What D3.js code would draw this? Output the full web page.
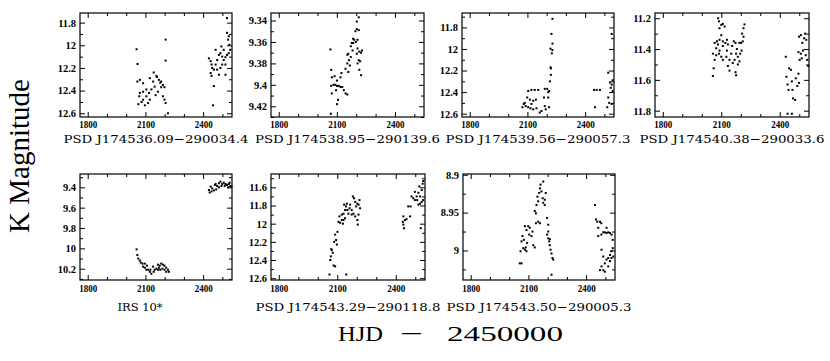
<!DOCTYPE html>
<html>
<head>
<meta charset="utf-8">
<script src="https://cdn.jsdelivr.net/npm/d3@7"></script>
<style>
  body { margin: 0; background: #fff; }
  svg { display: block; }
  .tick line { stroke: #000; stroke-width: 1; }
</style>
</head>
<body>
<svg id="chart" width="830" height="361"></svg>
<script>
// star names under each panel
const names = [
    "PSD J174536.09\u2212290034.4", "PSD J174538.95\u2212290139.6",
    "PSD J174539.56\u2212290057.3", "PSD J174540.38\u2212290033.6",
    "IRS 10*", "PSD J174543.29\u2212290118.8", "PSD J174543.50\u2212290005.3"
];

// HJD - 2450000 range and ticks (same for all panels)
const xRange = [1760, 2550];
const xTicks = [1800, 2100, 2400];
const xMinor = [1900, 2000, 2200, 2300, 2500];

// K magnitude range (bright at top) and ticks for each panel
const yRanges = [[11.715, 12.633], [9.333, 9.43], [11.666, 12.631], [11.166, 11.841],
                 [9.269, 10.311], [11.453, 12.62], [8.899, 9.039]];
const yTicks = [[11.8, 12, 12.2, 12.4, 12.6], [9.34, 9.36, 9.38, 9.4, 9.42],
                [11.8, 12, 12.2, 12.4, 12.6], [11.2, 11.4, 11.6, 11.8],
                [9.4, 9.6, 9.8, 10, 10.2], [11.6, 11.8, 12, 12.2, 12.4, 12.6],
                [8.9, 8.95, 9]];

// light curves: [HJD-2450000, K]
const lc1 = [[2054,12.035],[2059,12.165],[2205,11.95],[2205,12.135],
    [2058,12.32],[2071,12.305],[2088,12.335],[2143,12.24],[2157,12.27],[2170,12.305],[2182,12.32],
    [2191,12.35],[2199,12.37],[2148,12.365],[2131,12.39],[2119,12.42],[2105,12.45],[2088,12.48],
    [2080,12.50],[2063,12.52],[2097,12.53],[2114,12.51],[2123,12.48],[2071,12.42],[2088,12.41],
    [2068,12.45],[2105,12.39],[2153,12.44],[2165,12.41],[2191,12.45],[2199,12.48],[2205,12.51],
    [2182,12.37],[2140,12.32],[2123,12.29],[2217,12.60],[2160,12.28],[2177,12.33],
    [2430,12.115],[2439,12.14],[2444,12.17],[2447,12.20],[2439,12.245],[2444,12.27],[2456,12.215],
    [2465,12.17],[2473,12.13],[2482,12.085],[2490,12.07],[2499,12.10],[2507,12.13],[2516,12.105],
    [2524,12.085],[2533,12.07],[2541,12.04],[2536,11.995],[2530,11.95],[2533,11.92],[2524,11.89],
    [2524,11.76],[2490,12.20],[2499,12.17],[2516,12.17],[2473,12.215],[2482,12.26],[2516,12.26],
    [2456,12.36],[2451,12.53],[2507,12.04],[2495,12.01],[2465,12.04]];

const lc2 = [[2067,9.367],[2071,9.386],[2074,9.393],[2071,9.401],[2074,9.408],[2069,9.427],
    [2083,9.400],[2092,9.400],[2101,9.401],[2110,9.401],[2119,9.402],[2128,9.402],[2088,9.392],
    [2101,9.396],[2096,9.405],[2106,9.414],[2101,9.418],[2119,9.393],[2124,9.389],[2136,9.405],
    [2145,9.408],[2154,9.409],[2145,9.385],[2154,9.380],[2163,9.377],[2167,9.382],[2154,9.372],
    [2159,9.371],[2172,9.374],[2172,9.364],[2181,9.368],[2184,9.361],[2190,9.358],[2198,9.360],
    [2207,9.358],[2196,9.350],[2203,9.348],[2213,9.349],[2203,9.341],[2213,9.337],[2207,9.366],
    [2203,9.371],[2216,9.369],[2213,9.377],[2207,9.380],[2220,9.378],[2216,9.386],[2225,9.391],
    [2184,9.357],[2177,9.361],[2159,9.388],[2225,9.370],[2230,9.368]];

const lc3 = [[2230,11.72],[2225,11.86],[2230,11.95],[2220,11.997],[2230,12.01],[2227,12.04],
    [2220,12.17],[2222,12.18],[2222,12.24],[2217,12.30],[2213,12.39],[2208,12.40],[2208,12.45],
    [2203,12.37],[2212,12.54],[2190,12.37],
    [2104,12.39],[2121,12.38],[2138,12.38],[2156,12.38],[2099,12.45],[2113,12.47],[2130,12.48],
    [2144,12.47],[2086,12.50],[2091,12.53],[2104,12.54],[2116,12.55],[2130,12.56],[2147,12.55],
    [2074,12.54],[2081,12.51],[2121,12.51],[2173,12.575],[2164,12.59],[2190,12.53],[2195,12.56],
    [2186,12.45],
    [2446,12.38],[2460,12.38],[2477,12.38],[2451,12.54],[2520,12.22],[2529,12.31],[2533,12.36],
    [2538,12.33],[2543,12.39],[2520,12.45],[2525,12.50],[2538,12.51],[2515,12.54],[2538,11.86],
    [2543,12.29]];

const lc4 = [[2057,11.575],[2061,11.525],[2066,11.47],[2057,11.43],[2074,11.44],[2066,11.36],
    [2078,11.35],[2084,11.20],[2088,11.22],[2091,11.265],[2100,11.243],[2108,11.237],[2117,11.254],
    [2100,11.31],[2091,11.34],[2083,11.37],[2108,11.35],[2121,11.36],[2129,11.34],[2091,11.41],
    [2088,11.43],[2100,11.45],[2108,11.47],[2129,11.41],[2126,11.45],[2142,11.47],[2134,11.51],
    [2142,11.54],[2159,11.49],[2168,11.47],[2151,11.43],[2156,11.38],[2164,11.35],[2173,11.36],
    [2180,11.40],[2185,11.45],[2176,11.43],[2173,11.55],[2185,11.50],[2193,11.48],[2197,11.43],
    [2204,11.41],[2202,11.36],[2210,11.35],[2207,11.30],[2214,11.265],[2219,11.24],[2214,11.32],
    [2193,11.36],[2176,11.57],[2108,11.38],[2134,11.37],[2074,11.395],
    [2431,11.45],[2434,11.58],[2440,11.63],[2445,11.665],[2448,11.525],[2457,11.535],[2462,11.61],
    [2465,11.665],[2468,11.72],[2479,11.73],[2482,11.59],[2490,11.64],[2496,11.56],[2499,11.62],
    [2502,11.47],[2508,11.43],[2513,11.46],[2516,11.36],[2519,11.41],[2525,11.33],[2530,11.30],
    [2533,11.44],[2536,11.34],[2541,11.47],[2546,11.51],[2508,11.31],[2499,11.32],[2440,11.82],
    [2462,11.82],[2496,11.42]];

const lc5 = [[2054,10.01],[2058,10.066],[2063,10.10],[2071,10.12],[2076,10.14],[2085,10.15],
    [2088,10.18],[2097,10.19],[2105,10.21],[2114,10.21],[2123,10.23],[2131,10.25],[2126,10.21],
    [2140,10.18],[2148,10.21],[2157,10.20],[2165,10.16],[2174,10.17],[2182,10.15],[2191,10.16],
    [2199,10.17],[2208,10.19],[2217,10.21],[2188,10.20],[2177,10.21],[2165,10.21],[2143,10.23],
    [2199,10.21],[2208,10.23],[2108,10.17],[2097,10.15],[2222,10.23],[2170,10.19],
    [2430,9.426],[2439,9.393],[2447,9.41],[2456,9.43],[2461,9.377],[2473,9.387],[2482,9.36],
    [2490,9.344],[2499,9.367],[2507,9.354],[2516,9.367],[2524,9.377],[2533,9.367],[2541,9.387],
    [2547,9.393],[2444,9.44],[2468,9.42],[2495,9.387],[2512,9.387],[2530,9.40],[2434,9.45],
    [2482,9.40],[2465,9.367],[2538,9.354]];

const lc6 = [[2060,12.56],[2064,12.40],[2067,12.36],[2072,12.29],[2077,12.32],[2081,12.46],
    [2089,12.47],[2069,12.28],[2084,12.20],[2094,12.18],[2089,12.12],[2101,12.09],[2098,12.23],
    [2146,12.56],[2106,11.98],[2115,11.99],[2123,11.96],[2111,11.92],[2123,11.90],[2132,11.89],
    [2140,11.85],[2135,11.79],[2145,11.81],[2149,11.78],[2152,11.85],[2157,11.89],[2163,11.83],
    [2166,11.79],[2174,11.85],[2180,11.70],[2186,11.72],[2192,11.76],[2197,11.81],[2203,11.78],
    [2209,11.79],[2214,11.74],[2217,11.83],[2209,11.90],[2203,11.96],[2205,12.01],[2192,11.92],
    [2174,11.90],[2140,11.94],[2132,11.96],[2129,12.00],[2183,11.89],
    [2436,11.98],[2439,12.01],[2442,12.05],[2439,11.92],[2447,11.96],[2455,11.95],[2473,11.92],
    [2464,11.81],[2476,11.81],[2490,11.72],[2498,11.65],[2507,11.70],[2516,11.66],[2510,11.74],
    [2525,11.70],[2533,11.63],[2538,11.56],[2541,11.53],[2533,11.76],[2541,11.74],[2525,11.78],
    [2516,11.79],[2498,11.74],[2528,12.05],[2481,11.70],[2521,11.59]];

const lc7 = [[2055,9.017],[2064,9.017],[2059,9.001],[2064,8.988],[2069,8.981],[2076,8.986],
    [2073,8.997],[2082,8.999],[2086,8.996],[2090,9.001],[2093,8.990],[2082,8.968],[2090,8.973],
    [2099,8.968],[2107,8.970],[2104,8.979],[2116,8.981],[2121,8.975],[2125,8.993],[2133,8.996],
    [2139,8.964],[2133,8.948],[2139,8.951],[2142,8.940],[2151,8.935],[2147,8.929],[2156,8.924],
    [2160,8.918],[2163,8.913],[2177,8.909],[2185,8.933],[2174,8.931],[2190,8.924],[2168,8.922],
    [2151,8.962],[2160,8.964],[2177,8.937],
    [2197,8.957],[2203,8.966],[2197,8.979],[2203,8.984],[2208,8.988],[2211,8.993],[2215,8.999],
    [2220,9.004],[2225,9.010],[2229,9.012],[2203,8.975],[2211,8.985],[2220,9.032],[2185,8.940],
    [2446,8.940],[2451,8.959],[2458,8.962],[2463,8.970],[2472,8.962],[2479,8.964],[2463,8.981],
    [2479,8.979],[2489,8.976],[2497,8.976],[2506,8.977],[2515,8.976],[2524,8.977],[2532,8.979],
    [2538,8.986],[2506,8.970],[2480,8.999],[2489,9.008],[2480,9.021],[2489,9.026],[2497,9.017],
    [2506,9.012],[2515,9.010],[2524,9.006],[2532,9.001],[2538,8.997],[2532,9.010],[2541,9.008],
    [2515,9.021],[2472,9.026],[2497,9.028],[2524,9.014]];

const curves = [lc1, lc2, lc3, lc4, lc5, lc6, lc7];

// panel boxes on the page
const frames = [
    { x: 80,  y: 13,  w: 152, h: 104 },
    { x: 271, y: 13,  w: 153, h: 104 },
    { x: 462, y: 13,  w: 152, h: 104 },
    { x: 655, y: 13,  w: 154, h: 104 },
    { x: 80,  y: 174, w: 152, h: 106 },
    { x: 271, y: 174, w: 154, h: 106 },
    { x: 463, y: 174, w: 152, h: 106 }
];

const svg = d3.select("#chart");
const tickFont = "'Liberation Serif', 'Times New Roman', serif";
const fmt = v => String(+v.toFixed(3));

// ticks only: drop the axis line and the empty labels
function bare(g) {
    g.select(".domain").remove();
    g.selectAll("text").remove();
}

function drawPanel(i) {
    const f = frames[i];
    const x = d3.scaleLinear().domain(xRange).range([f.x, f.x + f.w]);
    const y = d3.scaleLinear().domain(yRanges[i]).range([f.y, f.y + f.h]);
    const g = svg.append("g");

    const majors = yTicks[i];
    const step = majors[1] - majors[0];
    const yMinor = d3.range(majors[0] - step / 2, yRanges[i][1], step)
        .filter(v => v > yRanges[i][0] && v < yRanges[i][1]);

    // minor ticks, all four sides
    g.append("g").attr("transform", `translate(0,${f.y + f.h})`)
        .call(d3.axisBottom(x).tickValues(xMinor).tickSize(-3)).call(bare);
    g.append("g").attr("transform", `translate(0,${f.y})`)
        .call(d3.axisTop(x).tickValues(xMinor).tickSize(-3)).call(bare);
    g.append("g").attr("transform", `translate(${f.x},0)`)
        .call(d3.axisLeft(y).tickValues(yMinor).tickSize(-3)).call(bare);
    g.append("g").attr("transform", `translate(${f.x + f.w},0)`)
        .call(d3.axisRight(y).tickValues(yMinor).tickSize(-3)).call(bare);

    // major ticks on top and right
    g.append("g").attr("transform", `translate(0,${f.y})`)
        .call(d3.axisTop(x).tickValues(xTicks).tickSize(-5)).call(bare);
    g.append("g").attr("transform", `translate(${f.x + f.w},0)`)
        .call(d3.axisRight(y).tickValues(majors).tickSize(-5)).call(bare);

    // labelled bottom and left
    const bottom = g.append("g").attr("transform", `translate(0,${f.y + f.h})`)
        .call(d3.axisBottom(x).tickValues(xTicks).tickSize(-5)
            .tickPadding(i < 4 ? 3 : 4.5).tickFormat(d3.format("d")));
    bottom.select(".domain").remove();
    bottom.selectAll("text")
        .attr("font-family", tickFont).attr("font-size", 11).attr("font-weight", "bold")
        .attr("fill", "#000").attr("textLength", 18).attr("lengthAdjust", "spacingAndGlyphs");

    const left = g.append("g").attr("transform", `translate(${f.x},0)`)
        .call(d3.axisLeft(y).tickValues(majors).tickSize(-5).tickPadding(4).tickFormat(fmt));
    left.select(".domain").remove();
    left.selectAll("text")
        .attr("font-family", tickFont).attr("font-size", 10.5).attr("font-weight", "bold")
        .attr("fill", "#000");

    // frame
    g.append("rect")
        .attr("x", f.x).attr("y", f.y).attr("width", f.w).attr("height", f.h)
        .attr("fill", "none").attr("stroke", "#000").attr("stroke-width", 1.2);

    // points
    g.append("g").selectAll("rect")
        .data(curves[i])
        .enter()
        .append("rect")
        .attr("x", d => x(d[0]) - 1)
        .attr("y", d => y(d[1]) - 1)
        .attr("width", 2)
        .attr("height", 2)
        .attr("fill", "#000");

    // star name
    const title = g.append("text")
        .attr("x", names[i] === "IRS 10*" ? f.x + 60 : f.x + f.w / 2)
        .attr("y", i < 4 ? 143 : 311)
        .attr("text-anchor", "middle")
        .attr("font-family", "'DejaVu Serif', serif")
        .attr("font-size", 11.5)
        .attr("fill", "#000")
        .text(names[i]);
    if (names[i] !== "IRS 10*") {
        title.attr("textLength", 185).attr("lengthAdjust", "spacingAndGlyphs");
    }
}

for (let i = 0; i < frames.length; i++) drawPanel(i);

// axis titles
const labelFont = "'Liberation Serif', 'Times New Roman', serif";
svg.append("text")
    .attr("transform", "translate(29,156) rotate(-90)")
    .attr("text-anchor", "middle")
    .attr("font-family", labelFont)
    .attr("font-size", 29)
    .attr("fill", "#000")
    .text("K Magnitude");

const xLabel = [["HJD", 338, 45], ["\u2212", 400, 23], ["2450000", 447, 116]];
svg.append("g").selectAll("text")
    .data(xLabel)
    .enter()
    .append("text")
    .attr("x", d => d[1])
    .attr("y", 341)
    .attr("font-family", labelFont)
    .attr("font-size", 22)
    .attr("fill", "#000")
    .attr("textLength", d => d[2])
    .attr("lengthAdjust", "spacingAndGlyphs")
    .text(d => d[0]);
</script>
</body>
</html>
